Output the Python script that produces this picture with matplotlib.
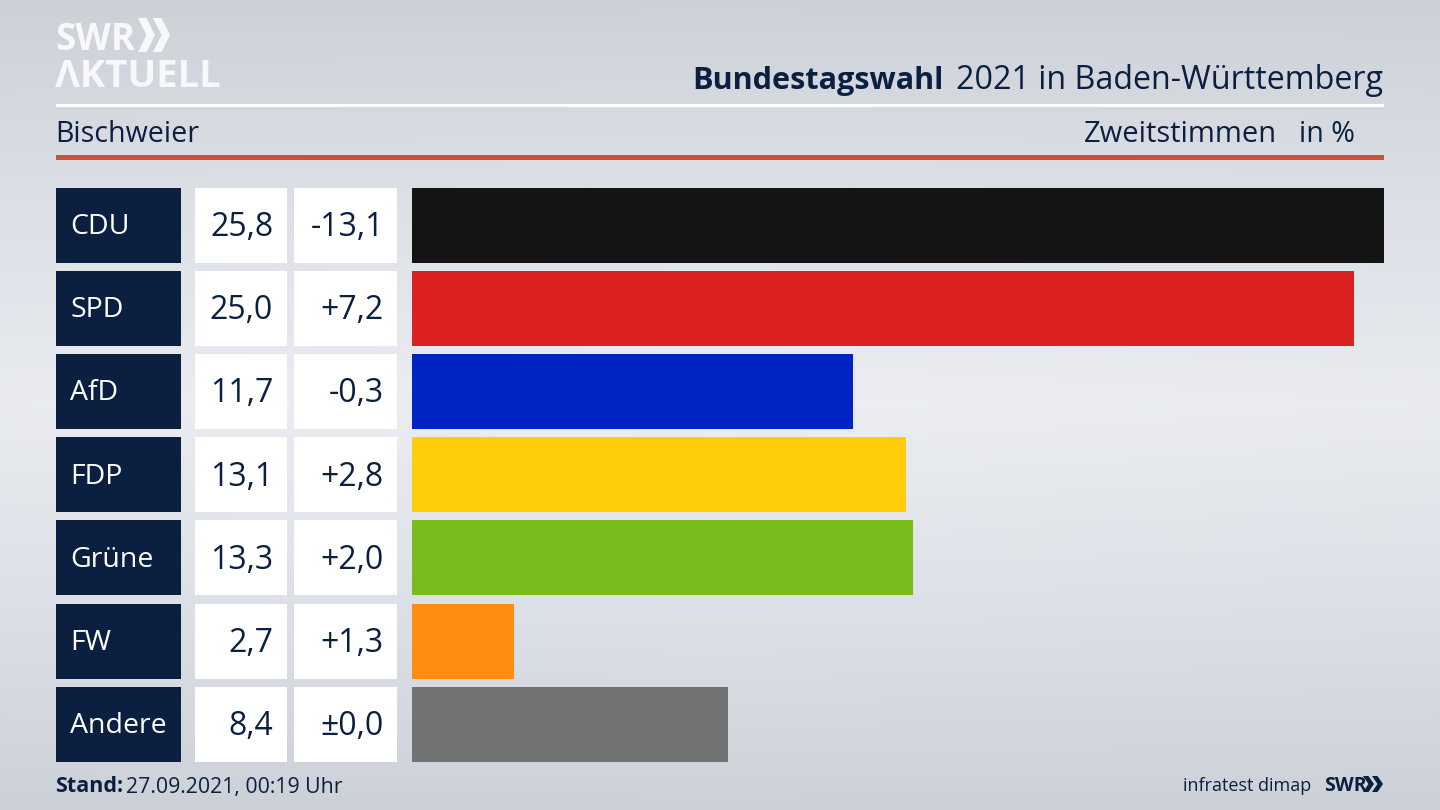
"""Bundestagswahl 2021 result card: Bischweier, Zweitstimmen."""
import numpy as np
import matplotlib
matplotlib.use("Agg")
import matplotlib.pyplot as plt
from matplotlib.patches import Rectangle, Polygon

plt.rcParams["font.family"] = ["Open Sans", "DejaVu Sans"]

parties = ["CDU", "SPD", "AfD", "FDP", "Grüne", "FW", "Andere"]
shares = [25.8, 25.0, 11.7, 13.1, 13.3, 2.7, 8.4]
share_labels = ["25,8", "25,0", "11,7", "13,1", "13,3", "2,7", "8,4"]
diff_labels = ["-13,1", "+7,2", "-0,3", "+2,8", "+2,0", "+1,3", "±0,0"]
bar_colors = ["#141414", "#da211f", "#0023c4", "#ffcd0a", "#78bc1b", "#ff8d13", "#717273"]

NAVY = "#0b2041"
W, H = 1440, 810
ROW_TOP, ROW_H, ROW_STEP = 187.5, 75, 83.2

fig = plt.figure(figsize=(14.4, 8.1), dpi=100)

# background: pale band across the middle, darker towards the edges
bg = fig.add_axes([0, 0, 1, 1], zorder=0)
yy, xx = np.mgrid[0:1:200j, 0:1:356j]
shade = np.clip(1 - np.abs(yy - 0.5) / 0.5, 0, 1) ** 0.85 * (1 - 0.2 * np.abs(xx - 0.5))
top, mid = np.array([204, 208, 215]), np.array([236, 238, 243])
bg.imshow((top + (mid - top) * shade[..., None]) / 255, aspect="auto", extent=(0, W, H, 0))
bg.set_xlim(0, W)
bg.set_ylim(H, 0)
bg.axis("off")

# header rules
bg.add_patch(Rectangle((56, 104), 1328, 3, color="white", lw=0))
bg.add_patch(Rectangle((56, 155), 1328, 5, color="#c8503c", lw=0))

# SWR logo
logo = dict(color="#f7f8fa", fontweight="bold", va="baseline", ha="left")
bg.text(55, 50, "SWR", fontsize=26.5, **logo)
bg.text(55, 87, "ΛKTUELL", fontsize=27.5, **logo)


def chevrons(x, y, w, h, gap, color):
    for i in range(2):
        x0 = x + i * gap
        bg.add_patch(Polygon([(x0, y), (x0 + w * 0.5, y), (x0 + w, y + h / 2),
                              (x0 + w * 0.5, y + h), (x0, y + h), (x0 + w * 0.5, y + h / 2)],
                             closed=True, color=color, lw=0))


chevrons(138, 18, 17, 34, 15, "#f7f8fa")

# header text
bg.text(1383, 89, "2021 in Baden-Württemberg", fontsize=23.2, color=NAVY, ha="right", va="baseline")
bg.text(944, 89, "Bundestagswahl", fontsize=22.1, color=NAVY, fontweight="bold", ha="right", va="baseline")
bg.text(55.5, 142, "Bischweier", fontsize=20.6, color=NAVY, va="baseline")
bg.text(1277, 142, "Zweitstimmen", fontsize=21, color=NAVY, ha="right", va="baseline")
bg.text(1355, 142, "in %", fontsize=20.6, color=NAVY, ha="right", va="baseline")

# table cells next to the bars
for i, (name, share, diff) in enumerate(zip(parties, share_labels, diff_labels)):
    y = ROW_TOP + i * ROW_STEP
    mid_y = y + ROW_H / 2 - 1.5
    bg.add_patch(Rectangle((56, y), 125, ROW_H, color=NAVY, lw=0))
    bg.add_patch(Rectangle((195, y), 92, ROW_H, color="white", lw=0))
    bg.add_patch(Rectangle((294, y), 103, ROW_H, color="white", lw=0))
    bg.text(70, mid_y, name, fontsize=20.5, color="white", va="center_baseline")
    bg.text(273, mid_y, share, fontsize=23, color=NAVY, ha="right", va="center_baseline")
    bg.text(384, mid_y, diff, fontsize=23, color=NAVY, ha="right", va="center_baseline")

# bars, longest one fills the axes
bar_top = ROW_TOP
bar_bottom = ROW_TOP + 6 * ROW_STEP + ROW_H
ax = fig.add_axes([412 / W, 1 - bar_bottom / H, 972 / W, (bar_bottom - bar_top) / H], zorder=1)
ax.patch.set_alpha(0)
ax.barh(range(len(parties)), shares, height=ROW_H / ROW_STEP, color=bar_colors)
ax.set_xlim(0, max(shares))
ax.set_ylim(6 + ROW_H / ROW_STEP / 2, -ROW_H / ROW_STEP / 2)
ax.axis("off")

# footer
bg.text(55.5, 792.5, "Stand:", fontsize=15.5, color=NAVY, fontweight="bold", va="baseline")
bg.text(125.5, 792.5, "27.09.2021, 00:19 Uhr", fontsize=15.3, color=NAVY, va="baseline")
bg.text(1311, 791, "infratest dimap", fontsize=13, color=NAVY, ha="right", va="baseline")
bg.text(1324, 791, "SWR", fontsize=14, color=NAVY, fontweight="bold", va="baseline")
chevrons(1363, 776, 11, 16, 9, NAVY)

fig.savefig("out.png", dpi=100)
